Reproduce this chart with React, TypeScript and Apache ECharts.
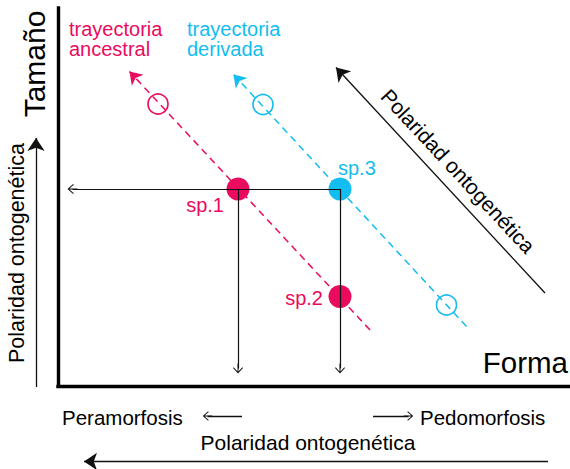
import React, { useEffect, useRef } from 'react';
import * as echarts from 'echarts';

const MAGENTA = '#EA0A5E';
const CYAN = '#13BDEF';
const INK = '#111111';
const FONT = '"Liberation Sans", Arial, Helvetica, sans-serif';

// Axis extents (Forma, Tamaño), arbitrary units
const formaMax = 102.4;
const tamanoMax = 75.6;

// Ontogenetic trajectories: [adult end, arrow head]
const ancestralTrajectory = [[62.4, 11.2], [14.3, 62.9]];
const derivedTrajectory = [[81.7, 11.9], [35.1, 62.3]];

// Hypothetical (open) stages on each trajectory
const ancestralOpenForma = [20];
const ancestralOpenTamano = [56.4];
const derivedOpenForma = [41, 77.7];
const derivedOpenTamano = [56.3, 16.2];

// Species
const speciesNames = ['sp.1', 'sp.2', 'sp.3'];
const speciesForma = [36, 56.4, 56.4];
const speciesTamano = [39.4, 17.9, 39.4];
const speciesTrajectory = ['ancestral', 'ancestral', 'derivada'];

// Ends of the projection arrows toward the axes
const projFormaEnd = 2.9;
const projTamanoEnd = 3.5;

// Polarity arrows
const diagonalPolarity = [[97.4, 18.6], [55.6, 63.7]];
const verticalPolarity = [[-4.4, -0.2], [-4.4, 49.6]];
const horizontalPolarity = [[98, -15.1], [5.2, -15.1]];
const peramorphosisArrow = [[36.8, -6], [29.9, -6]];
const pedomorphosisArrow = [[63, -6], [70.1, -6]];

const CHEVRON = 'path://M5,0L10,5.6L9.3,6.3L5.5,2L5.5,10L4.5,10L4.5,2L0.7,6.3L0,5.6Z';

export default function App() {
  const ref = useRef<HTMLDivElement>(null);

  useEffect(() => {
    if (!ref.current) return;
    const chart = echarts.init(ref.current, null, { renderer: 'svg' });

    const colorOf = (t: string) => (t === 'ancestral' ? MAGENTA : CYAN);

    const labelOffsets: Record<string, { align: string; offset: number[] }> = {
      'sp.1': { align: 'right', offset: [-14, 15.5] },
      'sp.2': { align: 'right', offset: [-17, 1.5] },
      'sp.3': { align: 'left', offset: [-2, -21.5] },
    };

    const speciesData = speciesNames.map((name, i) => ({
      name,
      value: [speciesForma[i], speciesTamano[i]],
      itemStyle: { color: colorOf(speciesTrajectory[i]), opacity: 1 },
      label: {
        show: true,
        formatter: '{b}',
        position: 'inside',
        align: labelOffsets[name].align,
        verticalAlign: 'middle',
        offset: labelOffsets[name].offset,
        color: colorOf(speciesTrajectory[i]),
        fontSize: 20,
        fontFamily: FONT,
      },
    }));

    const sp1 = [speciesForma[0], speciesTamano[0]];
    const sp3 = [speciesForma[2], speciesTamano[2]];

    const textStyle = (text: string, fontSize: number, fill: string, align: string) => ({
      text,
      fontSize,
      fontFamily: FONT,
      fill,
      align,
      textAlign: align,
      verticalAlign: 'middle',
      textVerticalAlign: 'middle',
    });

    const option: any = {
      animation: false,
      backgroundColor: '#ffffff',
      grid: { left: 58, right: 0, top: 8, bottom: 83, containLabel: false },
      xAxis: {
        type: 'value',
        min: 0,
        max: formaMax,
        axisLine: { show: true, onZero: false, lineStyle: { color: '#000', width: 3.4, cap: 'square' } },
        axisTick: { show: false },
        axisLabel: { show: false },
        splitLine: { show: false },
      },
      yAxis: {
        type: 'value',
        min: 0,
        max: tamanoMax,
        axisLine: { show: true, onZero: false, lineStyle: { color: '#000', width: 3.4, cap: 'square' } },
        axisTick: { show: false },
        axisLabel: { show: false },
        splitLine: { show: false },
      },
      series: [
        {
          type: 'lines',
          name: 'trayectoria ancestral',
          coordinateSystem: 'cartesian2d',
          z: 1,
          silent: true,
          clip: false,
          symbol: ['none', 'arrow'],
          symbolSize: 12,
          lineStyle: { color: MAGENTA, width: 1.5, type: [7, 5], opacity: 1 },
          data: [{ coords: ancestralTrajectory }],
        },
        {
          type: 'lines',
          name: 'trayectoria derivada',
          coordinateSystem: 'cartesian2d',
          z: 1,
          silent: true,
          clip: false,
          symbol: ['none', 'arrow'],
          symbolSize: 12,
          lineStyle: { color: CYAN, width: 1.5, type: [7, 5], opacity: 1 },
          data: [{ coords: derivedTrajectory }],
        },
        {
          type: 'scatter',
          name: 'estadios ancestrales',
          z: 2,
          silent: true,
          symbol: 'circle',
          symbolSize: 20,
          itemStyle: { color: 'rgba(255,255,255,0)', borderColor: MAGENTA, borderWidth: 1.6, opacity: 1 },
          data: ancestralOpenForma.map((x, i) => [x, ancestralOpenTamano[i]]),
        },
        {
          type: 'scatter',
          name: 'estadios derivados',
          z: 2,
          silent: true,
          symbol: 'circle',
          symbolSize: 20,
          itemStyle: { color: 'rgba(255,255,255,0)', borderColor: CYAN, borderWidth: 1.6, opacity: 1 },
          data: derivedOpenForma.map((x, i) => [x, derivedOpenTamano[i]]),
        },
        {
          type: 'scatter',
          name: 'especies',
          z: 2,
          silent: true,
          symbol: 'circle',
          symbolSize: 23,
          itemStyle: { opacity: 1 },
          data: speciesData,
        },
        {
          type: 'lines',
          name: 'proyecciones',
          coordinateSystem: 'cartesian2d',
          z: 3,
          silent: true,
          clip: false,
          symbol: ['none', CHEVRON],
          symbolSize: 10,
          lineStyle: { color: INK, width: 1.2, opacity: 1 },
          data: [
            { coords: [sp3, [projFormaEnd, sp3[1]]] },
            { coords: [sp1, [sp1[0], projTamanoEnd]] },
            { coords: [sp3, [sp3[0], projTamanoEnd]] },
          ],
        },
        {
          type: 'lines',
          name: 'polaridad',
          coordinateSystem: 'cartesian2d',
          z: 3,
          silent: true,
          clip: false,
          symbol: ['none', 'arrow'],
          symbolSize: 13,
          lineStyle: { color: INK, width: 1.3, opacity: 1 },
          data: [
            { coords: diagonalPolarity },
            { coords: verticalPolarity },
            { coords: horizontalPolarity },
          ],
        },
        {
          type: 'lines',
          name: 'heterocronia',
          coordinateSystem: 'cartesian2d',
          z: 3,
          silent: true,
          clip: false,
          symbol: ['none', CHEVRON],
          symbolSize: 9.5,
          lineStyle: { color: INK, width: 1.4, opacity: 1 },
          data: [{ coords: peramorphosisArrow }, { coords: pedomorphosisArrow }],
        },
      ],
      graphic: [
        { type: 'text', x: 34, y: 64, rotation: Math.PI / 2, style: textStyle('Tamaño', 30, '#000', 'center') },
        { type: 'text', x: 568, y: 362, style: textStyle('Forma', 29.5, '#000', 'right') },
        {
          type: 'text', x: 69, y: 39,
          style: { ...textStyle('trayectoria\nancestral', 20, MAGENTA, 'left'), lineHeight: 20.5 },
        },
        {
          type: 'text', x: 187, y: 39,
          style: { ...textStyle('trayectoria\nderivada', 20, CYAN, 'left'), lineHeight: 20.5 },
        },
        { type: 'text', x: 17, y: 253, rotation: Math.PI / 2, style: textStyle('Polaridad ontogenética', 21.5, '#000', 'center') },
        { type: 'text', x: 458, y: 171, rotation: -0.822, style: textStyle('Polaridad ontogenética', 21, '#000', 'center') },
        { type: 'text', x: 62, y: 417, style: textStyle('Peramorfosis', 20.5, '#000', 'left') },
        { type: 'text', x: 420, y: 417, style: textStyle('Pedomorfosis', 20.5, '#000', 'left') },
        { type: 'text', x: 308, y: 442, style: textStyle('Polaridad ontogenética', 21, '#000', 'center') },
      ],
    };

    chart.setOption(option);
    return () => chart.dispose();
  }, []);

  return (
    <div
      ref={ref}
      style={{ position: 'fixed', left: 0, top: 0, width: 570, height: 469, background: '#fff' }}
    />
  );
}
